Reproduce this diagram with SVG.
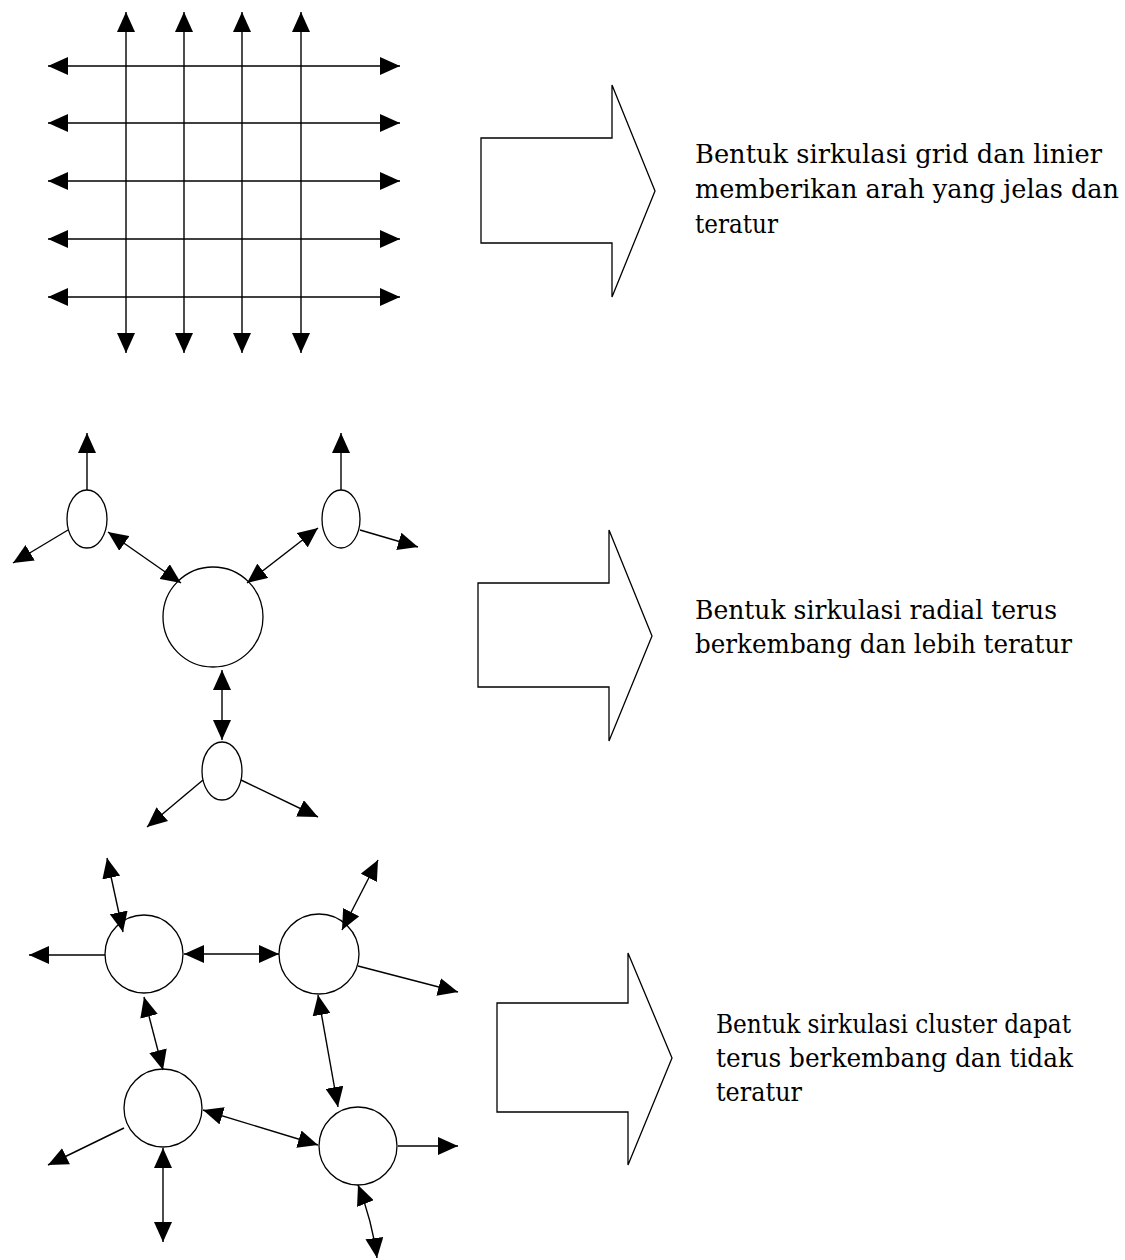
<svg xmlns="http://www.w3.org/2000/svg" width="1125" height="1260" viewBox="0 0 1125 1260">
<style>
.ln{stroke:#000;stroke-width:1.4;fill:none;marker-start:url(#ah);marker-end:url(#ah)}
.one{stroke:#000;stroke-width:1.4;fill:none;marker-end:url(#ah)}
.nd{fill:#fff;stroke:#000;stroke-width:1.3}
.big{fill:#fff;stroke:#000;stroke-width:1.3;stroke-linejoin:miter}
.tx{font-family:"DejaVu Serif","Liberation Serif",serif;font-size:26px;fill:#000}
</style>
<defs>
<marker id="ah" viewBox="0 0 20 18" refX="20" refY="9" markerWidth="20" markerHeight="18" markerUnits="userSpaceOnUse" orient="auto-start-reverse">
<path d="M0,0 L20,9 L0,18 z" fill="#000"/>
</marker>
</defs>
<rect width="1125" height="1260" fill="#fff"/>

<g id="grid">
<g id="connectors-grid">
<line class="ln" x1="48" y1="66" x2="400" y2="66"/>
<line class="ln" x1="48" y1="123" x2="400" y2="123"/>
<line class="ln" x1="48" y1="181" x2="400" y2="181"/>
<line class="ln" x1="48" y1="239" x2="400" y2="239"/>
<line class="ln" x1="48" y1="297" x2="400" y2="297"/>
<line class="ln" x1="126" y1="12" x2="126" y2="353"/>
<line class="ln" x1="184" y1="12" x2="184" y2="353"/>
<line class="ln" x1="242" y1="12" x2="242" y2="353"/>
<line class="ln" x1="301" y1="12" x2="301" y2="353"/>
</g>
</g>

<g id="radial-nodes">
<g id="r-tl"><ellipse class="nd" cx="87" cy="519" rx="20" ry="29"/></g>
<g id="r-tr"><ellipse class="nd" cx="341" cy="519" rx="19" ry="29"/></g>
<g id="r-center"><circle class="nd" cx="213" cy="617" r="50"/></g>
<g id="r-bottom"><ellipse class="nd" cx="222" cy="771" rx="20" ry="29"/></g>
</g>

<g id="cluster-nodes">
<g id="c-a"><circle class="nd" cx="144" cy="954" r="39"/></g>
<g id="c-b"><circle class="nd" cx="319" cy="954" r="40"/></g>
<g id="c-c"><circle class="nd" cx="163" cy="1108" r="39"/></g>
<g id="c-d"><circle class="nd" cx="358" cy="1146" r="39"/></g>
</g>

<g id="connectors">
<!-- radial -->
<line class="one" x1="87" y1="490" x2="87" y2="433"/>
<line class="one" x1="68" y1="530" x2="13" y2="563"/>
<line class="ln" x1="108" y1="532" x2="181" y2="583"/>
<line class="one" x1="341" y1="490" x2="341" y2="433"/>
<line class="one" x1="360" y1="530" x2="418" y2="547"/>
<line class="ln" x1="318" y1="528" x2="247" y2="583"/>
<line class="ln" x1="222" y1="670" x2="222" y2="740"/>
<line class="one" x1="203" y1="780" x2="147" y2="827"/>
<line class="one" x1="241" y1="780" x2="318" y2="817"/>
<!-- cluster -->
<line class="ln" x1="107" y1="858" x2="123" y2="932"/>
<line class="one" x1="105" y1="955" x2="29" y2="955"/>
<line class="ln" x1="184" y1="954" x2="279" y2="954"/>
<line class="ln" x1="378" y1="860" x2="342" y2="930"/>
<line class="one" x1="358" y1="966" x2="458" y2="992"/>
<line class="ln" x1="144" y1="997" x2="163" y2="1070"/>
<line class="ln" x1="318" y1="995" x2="338" y2="1107"/>
<line class="ln" x1="203" y1="1110" x2="318" y2="1145"/>
<line class="one" x1="124" y1="1128" x2="48" y2="1165"/>
<line class="ln" x1="163" y1="1148" x2="163" y2="1242"/>
<line class="one" x1="398" y1="1146" x2="458" y2="1146"/>
<path class="ln" d="M358,1185 Q372,1220 377,1258"/>
</g>

<g id="arrow1"><polygon class="big" points="481,138 612,138 612,85 655,191 612,297 612,243 481,243"/></g>
<g id="arrow2"><polygon class="big" points="478,583 609,583 609,530 652,636 609,741 609,687 478,687"/></g>
<g id="arrow3"><polygon class="big" points="497,1003 628,1003 628,953 672,1058 628,1165 628,1112 497,1112"/></g>

<g id="text1" class="tx">
<text x="695" y="163" textLength="407" lengthAdjust="spacingAndGlyphs">Bentuk sirkulasi grid dan linier</text>
<text x="695" y="198" textLength="424" lengthAdjust="spacingAndGlyphs">memberikan arah yang jelas dan</text>
<text x="695" y="233" textLength="83" lengthAdjust="spacingAndGlyphs">teratur</text>
</g>
<g id="text2" class="tx">
<text x="695" y="619" textLength="362" lengthAdjust="spacingAndGlyphs">Bentuk sirkulasi radial terus</text>
<text x="695" y="653" textLength="377" lengthAdjust="spacingAndGlyphs">berkembang dan lebih teratur</text>
</g>
<g id="text3" class="tx">
<text x="716" y="1033" textLength="355" lengthAdjust="spacingAndGlyphs">Bentuk sirkulasi cluster dapat</text>
<text x="716" y="1067" textLength="357" lengthAdjust="spacingAndGlyphs">terus berkembang dan tidak</text>
<text x="716" y="1101" textLength="86" lengthAdjust="spacingAndGlyphs">teratur</text>
</g>
</svg>
